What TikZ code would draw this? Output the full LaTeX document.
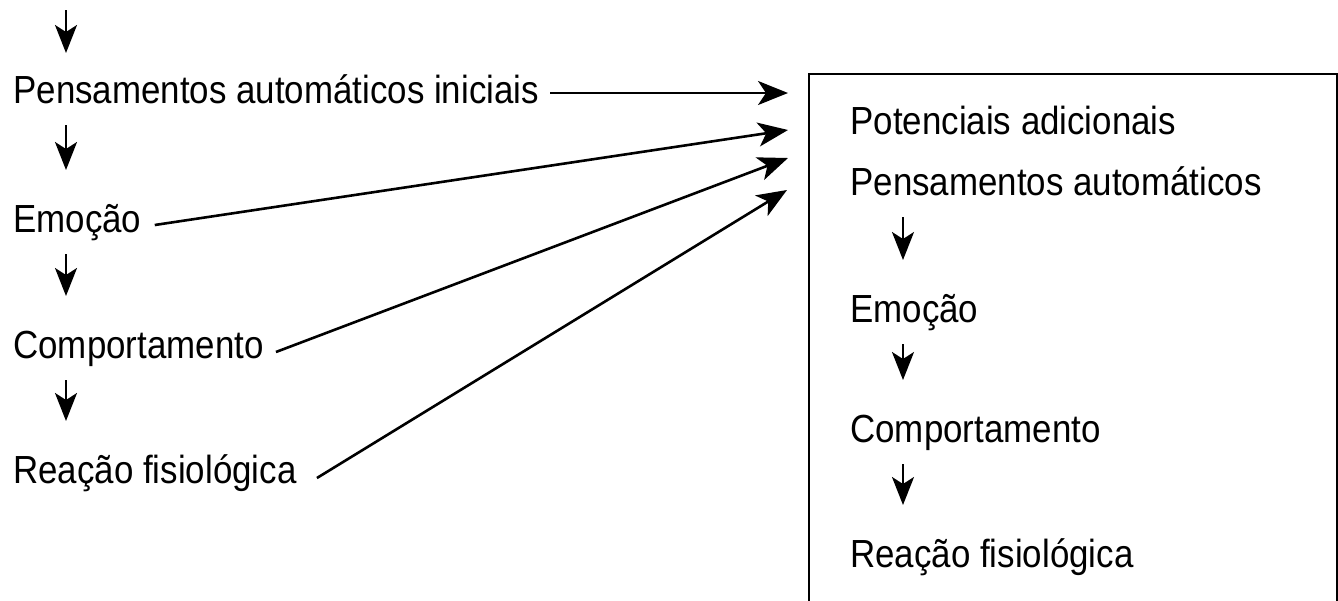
\documentclass[tikz,border=0pt]{standalone}
\usepackage{fontspec}
\setmainfont[FakeStretch=0.89]{Liberation Sans}
\usetikzlibrary{arrows.meta,positioning,calc}

\begin{document}
\begin{tikzpicture}[x=0.5pt, y=-0.5pt,
            every node/.style = {inner sep=0pt, anchor=base west, font=\fontsize{19.6}{23}\selectfont},
            flow/.style = {-{Stealth[length=14pt,width=11pt,inset=3.5pt]}, line width=1.1pt},
            link/.style = {-{Stealth[length=15pt,width=12pt,inset=4pt]}, line width=1.3pt}
            ]
            \useasboundingbox (0,0) rectangle (1338,600);
            % left column
            \node (pai) at (13,103) {Pensamentos automáticos iniciais};
            \node (emo) at (13,232) {Emoção};
            \node (com) at (13,358) {Comportamento};
            \node (rea) at (13,483) {Reação fisiológica};
            \coordinate (top) at (66,10);
            % box on the right
            \node[draw, line width=1pt, anchor=north west, minimum width=264pt, minimum height=275pt] (box) at (808,73) {};
            \node (pot) at (850,134) {Potenciais adicionais};
            \node (bpa) at (850,195) {Pensamentos automáticos};
            \node (bemo) at (850,322) {Emoção};
            \node (bcom) at (850,442) {Comportamento};
            \node (brea) at (850,567) {Reação fisiológica};
            % vertical steps
            \draw[flow] (top) -- ([shift={(53,-50)}]pai.base west);
            \foreach \a/\b in {pai/emo, emo/com, com/rea, bpa/bemo, bemo/bcom, bcom/brea}
                \draw[flow] ([shift={(53,22)}]\a.base west) -- ([shift={(53,-62)}]\b.base west);
            % links into the box
            \draw[link] ([shift={(11,-10)}]pai.base east) -- ([shift={(-20,20)}]box.north west);
            \draw[link] ([shift={(13,-7)}]emo.base east) -- ([shift={(-20,57)}]box.north west);
            \draw[link] ([shift={(12,-6)}]com.base east) -- ([shift={(-20,85)}]box.north west);
            \draw[link] ([shift={(20,-5)}]rea.base east) -- ([shift={(-21,117)}]box.north west);
        \end{tikzpicture}
\end{document}
